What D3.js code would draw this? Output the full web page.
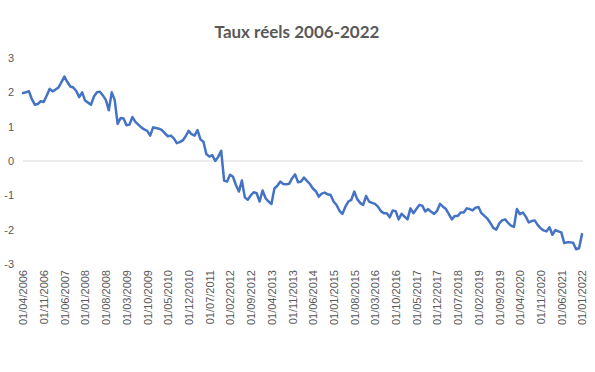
<!DOCTYPE html>
<html>
<head>
<meta charset="utf-8">
<script src="https://cdn.jsdelivr.net/npm/d3@7"></script>
<style>
  body { margin: 0; background: #fff; }
  .title { font-family: Lato, "Open Sans", sans-serif; font-weight: bold; fill: #595959; }
  .tick text { font-family: "Liberation Sans", Arial, sans-serif; fill: #595959; }
</style>
</head>
<body>
<script>
var width = 595,
    height = 372;

// monthly series, 01/04/2006 -> 01/01/2022
var startMonth = new Date(2006, 3, 1);
var values = [
  1.98, 2.00, 2.03, 1.80, 1.64, 1.66, 1.74, 1.72, 1.90, 2.10,
  2.03, 2.08, 2.14, 2.30, 2.46, 2.30, 2.17, 2.14, 2.04, 1.86,
  2.00, 1.76, 1.70, 1.64, 1.88, 2.00, 2.02, 1.91, 1.78, 1.48,
  2.00, 1.78, 1.08, 1.25, 1.24, 1.04, 1.06, 1.28, 1.14, 1.06,
  0.98, 0.92, 0.88, 0.74, 0.98, 0.96, 0.94, 0.90, 0.80, 0.72,
  0.74, 0.66, 0.52, 0.55, 0.60, 0.72, 0.88, 0.78, 0.74, 0.90,
  0.63, 0.56, 0.20, 0.13, 0.17, 0.00, 0.12, 0.30, -0.57, -0.60,
  -0.40, -0.46, -0.70, -0.89, -0.57, -1.06, -1.13, -1.00, -0.91, -0.94,
  -1.18, -0.86, -1.08, -1.18, -1.25, -0.80, -0.72, -0.60, -0.67, -0.68,
  -0.66, -0.50, -0.39, -0.62, -0.60, -0.48, -0.58, -0.67, -0.80, -0.88,
  -1.04, -0.95, -0.92, -0.97, -0.99, -1.18, -1.28, -1.45, -1.54, -1.33,
  -1.18, -1.13, -0.89, -1.11, -1.22, -1.28, -1.02, -1.18, -1.22, -1.25,
  -1.33, -1.46, -1.52, -1.52, -1.64, -1.44, -1.46, -1.70, -1.54, -1.62,
  -1.70, -1.38, -1.52, -1.40, -1.28, -1.30, -1.47, -1.40, -1.48, -1.54,
  -1.45, -1.25, -1.33, -1.40, -1.55, -1.70, -1.60, -1.60, -1.50, -1.50,
  -1.38, -1.40, -1.44, -1.36, -1.34, -1.52, -1.60, -1.68, -1.80, -1.95,
  -2.00, -1.82, -1.73, -1.70, -1.80, -1.88, -1.92, -1.40, -1.55, -1.50,
  -1.62, -1.79, -1.75, -1.73, -1.86, -1.96, -2.02, -2.05, -1.93, -2.15,
  -2.01, -2.05, -2.08, -2.39, -2.37, -2.37, -2.38, -2.57, -2.54, -2.13
];

var tickLabels = [
  "01/04/2006", "01/11/2006", "01/06/2007", "01/01/2008", "01/08/2008",
  "01/03/2009", "01/10/2009", "01/05/2010", "01/12/2010", "01/07/2011",
  "01/02/2012", "01/09/2012", "01/04/2013", "01/11/2013", "01/06/2014",
  "01/01/2015", "01/08/2015", "01/03/2016", "01/10/2016", "01/05/2017",
  "01/12/2017", "01/07/2018", "01/02/2019", "01/09/2019", "01/04/2020",
  "01/11/2020", "01/06/2021", "01/01/2022"
];

var yTicks = [-3, -2, -1, 0, 1, 2, 3];

var fmt = d3.timeFormat("%d/%m/%Y");
var months = values.map(function(v, i) {
  return fmt(d3.timeMonth.offset(startMonth, i));
});

var x = d3.scalePoint()
    .domain(months)
    .range([23, 582]);

var y = d3.scaleLinear()
    .domain([-3, 3])
    .range([264, 58]);

var svg = d3.select("body").append("svg")
    .attr("width", width)
    .attr("height", height);

svg.append("text")
    .attr("class", "title")
    .attr("x", 297)
    .attr("y", 38)
    .attr("text-anchor", "middle")
    .style("font-size", "17px")
    .text("Taux réels 2006-2022");

// zero line
svg.append("line")
    .attr("x1", 23).attr("x2", 583)
    .attr("y1", y(0)).attr("y2", y(0))
    .attr("stroke", "#d9d9d9")
    .attr("stroke-width", 1);

var yAxis = svg.append("g")
    .attr("transform", "translate(14,0)")
    .call(d3.axisLeft(y).tickValues(yTicks).tickSize(0).tickPadding(0)
      .tickFormat(function(d) { return String(d); }));
yAxis.select(".domain").remove();
yAxis.selectAll("text").style("font-size", "11px");

var xAxis = svg.append("g")
    .attr("transform", "translate(0,266)")
    .call(d3.axisBottom(x).tickValues(tickLabels).tickSize(0));
xAxis.select(".domain").remove();
xAxis.selectAll("text")
    .style("font-size", "11px")
    .attr("text-anchor", "end")
    .attr("transform", "rotate(-90)")
    .attr("x", -4)
    .attr("y", 0)
    .attr("dy", "0.35em");

var line = d3.line()
    .x(function(d, i) { return x(months[i]); })
    .y(function(d) { return y(d); });

svg.append("path")
    .datum(values)
    .attr("fill", "none")
    .attr("stroke", "#4472C4")
    .attr("stroke-width", 2.5)
    .attr("stroke-linejoin", "round")
    .attr("stroke-linecap", "round")
    .attr("d", line);
</script>
</body>
</html>
